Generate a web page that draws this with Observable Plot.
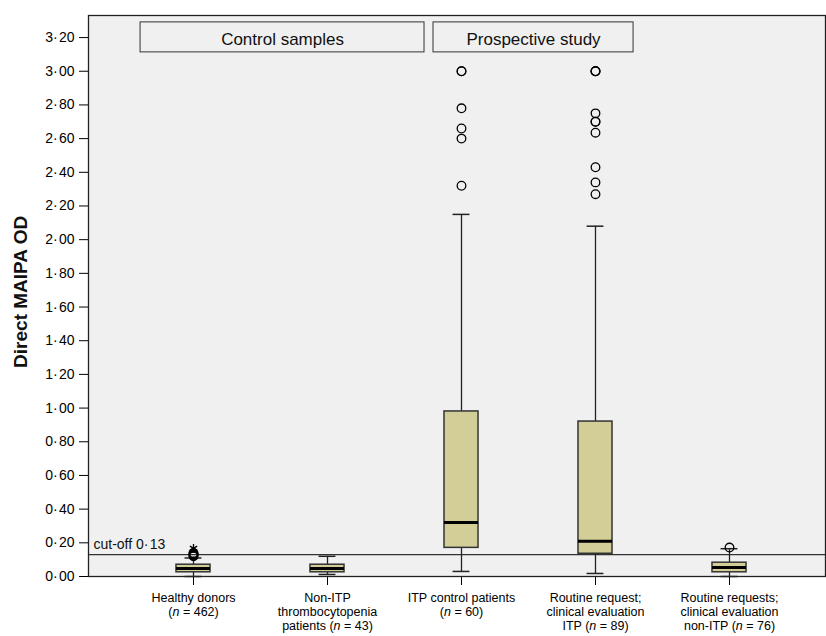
<!DOCTYPE html>
<html>
<head>
<meta charset="utf-8">
<script src="https://cdn.jsdelivr.net/npm/d3@7"></script>
<script src="https://cdn.jsdelivr.net/npm/@observablehq/plot@0.6"></script>
<style>
  html, body { margin: 0; padding: 0; background: #fff; }
  #chart svg { display: block; }
</style>
</head>
<body>
<div id="chart"></div>
<script>
// ---- data ----
const categories = [
  "Healthy donors\n(n = 462)",
  "Non-ITP\nthrombocytopenia\npatients (n = 43)",
  "ITP control patients\n(n = 60)",
  "Routine request;\nclinical evaluation\nITP (n = 89)",
  "Routine requests;\nclinical evaluation\nnon-ITP (n = 76)"
];
const q1          = [0.025, 0.025, 0.17, 0.135, 0.025];
const median      = [0.047, 0.047, 0.32, 0.21, 0.053];
const q3          = [0.070, 0.070, 0.98, 0.92, 0.082];
const whiskerLow  = [0.000, 0.012, 0.03, 0.018, 0.000];
const whiskerHigh = [0.110, 0.120, 2.15, 2.08, 0.165];

const outlierGroup = [0, 0, 0, 0, 0,
                      2, 2, 2, 2, 2, 2,
                      3, 3, 3, 3, 3, 3, 3, 3, 3, 3,
                      4];
const outlierValue = [0.12, 0.125, 0.13, 0.135, 0.14,
                      2.32, 2.60, 2.66, 2.78, 3.00, 3.00,
                      2.27, 2.34, 2.43, 2.635, 2.70, 2.70, 2.75, 3.00, 3.00, 3.00,
                      0.172];
const extremeGroup = [0];
const extremeValue = [0.168];

const cutoff = 0.13;
const cutoffLabel = "cut-off 0·\u200A13";
const yTicks = [0, 0.2, 0.4, 0.6, 0.8, 1.0, 1.2, 1.4, 1.6, 1.8, 2.0, 2.2, 2.4, 2.6, 2.8, 3.0, 3.2];
const yLabel = "Direct MAIPA OD";
const panelTitles = ["Control samples", "Prospective study"];

// ---- layout for the header panels (in scale units) ----
const panelX1 = [-0.395, 1.791];
const panelX2 = [1.724, 3.284];
const panelY1 = 3.112, panelY2 = 3.290;

const boxes = categories.map((c, i) => ({
  i, q1: q1[i], med: median[i], q3: q3[i], lo: whiskerLow[i], hi: whiskerHigh[i]
}));
const outliers = outlierGroup.map((g, k) => ({i: g, v: outlierValue[k]}));
const extremes = extremeGroup.map((g, k) => ({i: g, v: extremeValue[k]}));
const panels = panelTitles.map((t, k) => ({t, x1: panelX1[k], x2: panelX2[k]}));

const halfBox = 0.127, halfCap = 0.063;
const fmt = d => d.toFixed(2).replace(".", "·\u200A");
const yDomain = [0, 3.331];

const chart = Plot.plot({
  width: 826,
  height: 636,
  marginLeft: 88,
  marginRight: 1,
  marginTop: 15,
  marginBottom: 60,
  style: {fontFamily: "'Liberation Sans', Arial, sans-serif", background: "#fff", color: "#000"},
  x: {type: "linear", domain: [0, 4], range: [193, 729]},
  y: {domain: yDomain},
  marks: [
    Plot.frame({fill: "#f0f0f0", stroke: "none"}),
    Plot.ruleY([cutoff], {stroke: "#333", strokeWidth: 1.3}),
    Plot.text([cutoffLabel], {frameAnchor: "left", y: cutoff, dx: 5, dy: -10, textAnchor: "start", fontSize: 14, fill: "#111"}),
    // header panels
    Plot.rect(panels, {x1: "x1", x2: "x2", y1: panelY1, y2: panelY2, fill: "#f0f0f0", stroke: "#333", strokeWidth: 1}),
    Plot.text(panels, {x: d => (d.x1 + d.x2) / 2, y: (panelY1 + panelY2) / 2, dy: 2, text: "t", fontSize: 17, fill: "#111"}),
    // whiskers
    Plot.ruleX(boxes, {x: "i", y1: "lo", y2: "hi", stroke: "#222", strokeWidth: 1.3}),
    Plot.ruleY(boxes, {y: "lo", x1: d => d.i - halfCap, x2: d => d.i + halfCap, stroke: "#222", strokeWidth: 1.5}),
    Plot.ruleY(boxes, {y: "hi", x1: d => d.i - halfCap, x2: d => d.i + halfCap, stroke: "#222", strokeWidth: 1.5}),
    // boxes
    Plot.rect(boxes, {x1: d => d.i - halfBox, x2: d => d.i + halfBox, y1: "q1", y2: "q3", fill: "#d3ce97", stroke: "#333", strokeWidth: 1.5}),
    Plot.ruleY(boxes, {y: "med", x1: d => d.i - halfBox, x2: d => d.i + halfBox, stroke: "#000", strokeWidth: 3}),
    // outliers
    Plot.dot(outliers, {x: "i", y: "v", r: 4.3, stroke: "#000", fill: "none", strokeWidth: 1.3}),
    Plot.dot(extremes, {x: "i", y: "v", r: 4, symbol: "asterisk", stroke: "#000", strokeWidth: 1.3}),
    // axes
    Plot.axisY({ticks: yTicks, tickFormat: fmt, tickSize: 9, tickPadding: 5, fontSize: 14, label: null, stroke: "#000"}),
    Plot.axisX({ticks: [0, 1, 2, 3, 4], tickFormat: i => categories[i], tickSize: 9, tickPadding: 6, fontSize: 12.5, label: null, lineHeight: 1.15}),
    Plot.text([yLabel], {x: -1.291, y: 1.69, rotate: -90, textAnchor: "middle", fontSize: 19, fontWeight: "bold", fill: "#111"}),
    Plot.frame({stroke: "#222", strokeWidth: 1.3})
  ]
});

// italicise the "n" in "(n = …)"
chart.querySelectorAll("text, tspan").forEach(el => {
  if (el.children.length) return;
  const s = el.textContent;
  const k = s.indexOf("(n = ");
  if (k < 0) return;
  el.textContent = "";
  el.appendChild(document.createTextNode(s.slice(0, k + 1)));
  const it = document.createElementNS("http://www.w3.org/2000/svg", "tspan");
  it.setAttribute("font-style", "italic");
  it.textContent = "n";
  el.appendChild(it);
  el.appendChild(document.createTextNode(s.slice(k + 2)));
});

document.getElementById("chart").appendChild(chart);
</script>
</body>
</html>
